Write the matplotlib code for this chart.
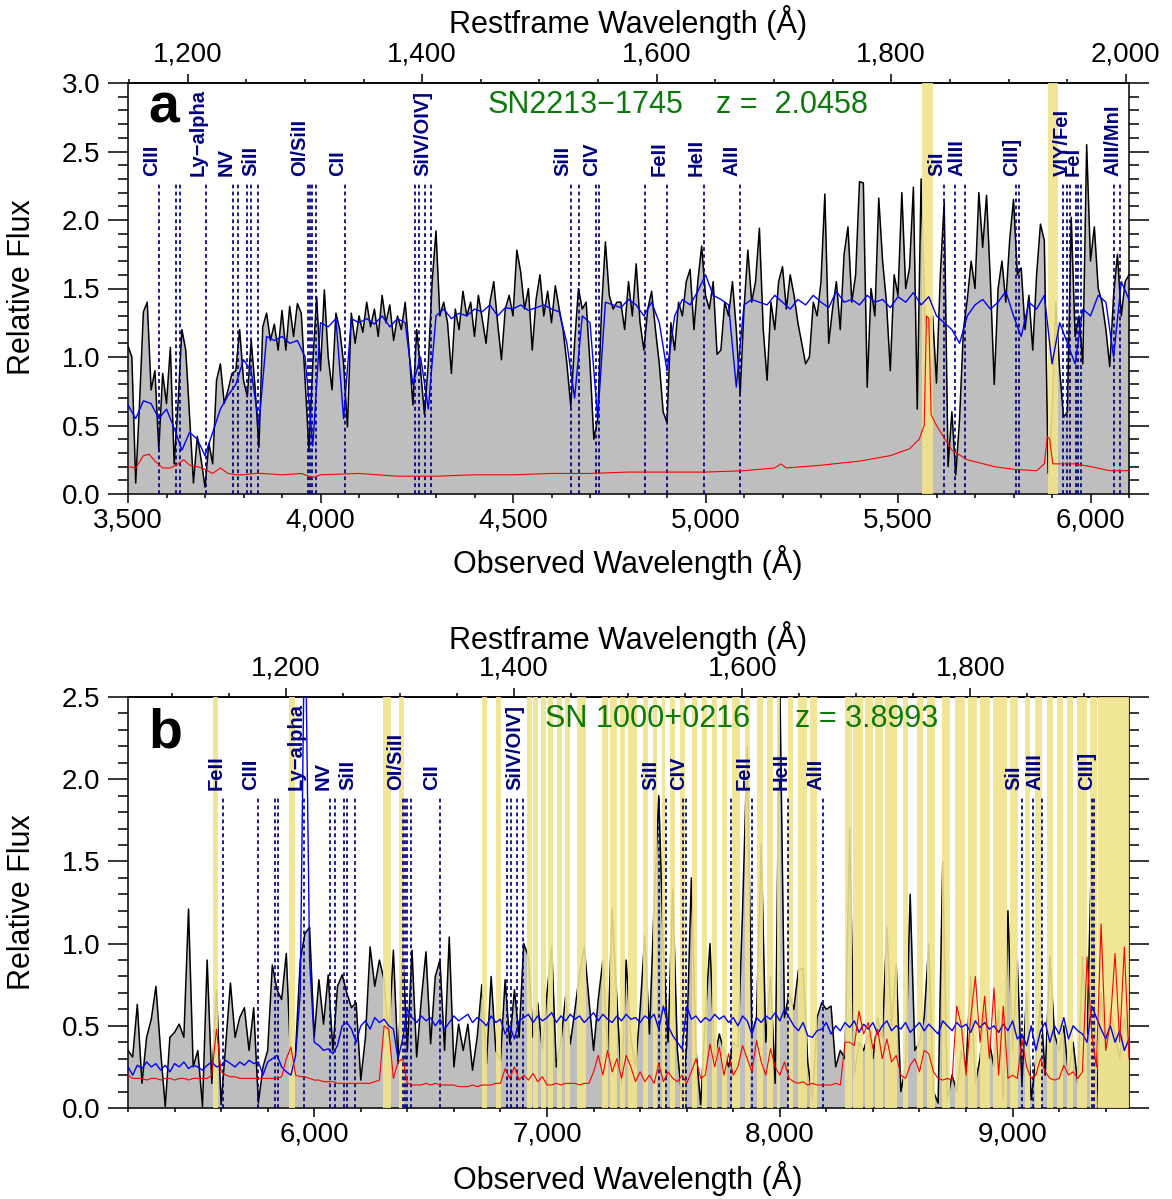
import numpy as np
import matplotlib
matplotlib.use('Agg')
import matplotlib.pyplot as plt
from matplotlib.ticker import MultipleLocator, FixedLocator, FuncFormatter, FormatStrFormatter
from matplotlib.transforms import offset_copy

plt.rcParams['font.family'] = ['Liberation Sans', 'DejaVu Sans']

# ----------------------------
# panel a : SN2213-1745
# ----------------------------
z_a = 2.0458
flux_a_start, flux_a_step = 3500, 10
flux_a = [
    1.08, 1.00, 0.08, 0.66, 1.33, 1.40, 0.76, 0.90, 0.32, 0.88,
    0.66, 1.07, 0.22, 0.66, 1.20, 1.05, 0.56, 0.08, 0.42, 0.25,
    0.05, 0.37, 0.22, 0.83, 0.95, 0.66, 0.76, 0.88, 0.90, 1.20,
    0.83, 0.71, 1.12, 0.78, 0.34, 1.22, 1.32, 1.12, 1.24, 1.05,
    1.34, 1.05, 1.37, 1.15, 1.39, 1.32, 0.83, 0.32, 0.95, 1.44,
    0.90, 1.49, 1.00, 0.76, 1.32, 1.20, 0.95, 0.49, 1.32, 1.10,
    1.30, 1.18, 1.40, 1.22, 1.35, 1.15, 1.45, 1.25, 1.38, 1.12,
    1.30, 1.20, 1.40, 1.05, 0.65, 1.20, 0.90, 0.58, 0.95, 1.55,
    1.92, 1.30, 1.40, 1.25, 0.88, 1.35, 1.20, 1.48, 1.30, 1.40,
    1.15, 1.45, 1.28, 1.10, 1.40, 1.55, 1.25, 0.98, 1.35, 1.45,
    1.30, 1.78, 1.62, 1.35, 1.50, 1.05, 1.42, 1.60, 1.30, 1.48,
    1.25, 1.52, 1.35, 1.20, 0.95, 0.64, 1.10, 1.50, 1.35, 1.40,
    0.95, 0.40, 0.55, 1.35, 1.84, 1.45, 1.35, 1.40, 1.40, 1.20,
    1.55, 1.30, 1.68, 1.25, 1.05, 1.35, 1.48, 1.20, 0.95, 0.60,
    0.52, 1.25, 1.05, 1.40, 1.30, 1.55, 1.64, 1.20, 1.55, 1.81,
    1.45, 1.35, 1.55, 1.02, 1.05, 1.40, 1.30, 1.55, 1.20, 0.73,
    1.35, 1.78, 1.40, 1.55, 1.94, 1.20, 0.83, 1.40, 1.20, 1.55,
    1.66, 1.35, 1.60, 1.45, 1.25, 1.10, 0.95, 1.00, 1.40, 1.30,
    1.55, 2.19, 1.10, 1.35, 1.55, 1.20, 1.75, 1.95, 1.40, 1.60,
    2.28, 2.27, 0.78, 1.50, 1.30, 2.16, 1.70, 1.40, 0.90, 1.60,
    1.45, 2.20, 1.50, 1.65, 2.24, 0.62, 2.30, 1.25, 1.20, 1.30,
    0.81, 1.60, 2.13, 0.20, 0.60, 0.14, 0.55, 1.20, 1.42, 1.70,
    1.50, 2.20, 1.80, 2.18, 1.55, 0.80, 1.50, 1.70, 1.40, 1.85,
    2.15, 1.60, 1.65, 1.20, 1.45, 1.05, 1.60, 1.97, 1.85, 0.15,
    0.60, 1.40, 0.90, 0.56, 0.60, 2.02, 1.15, 1.30, 0.95, 2.55,
    1.70, 1.95, 1.50, 1.40, 1.20, 0.93, 1.45, 1.75, 1.30, 1.55,
    1.60,
]
comp_a_start, comp_a_step = 3500, 20
comp_a = [
    0.65, 0.55, 0.68, 0.66, 0.55, 0.62, 0.48, 0.32, 0.45, 0.40,
    0.28, 0.45, 0.62, 0.72, 0.80, 0.98, 0.90, 0.50, 1.15, 1.12,
    1.15, 1.10, 1.12, 1.00, 0.35, 1.25, 1.22, 1.28, 0.55, 1.28,
    1.25, 1.28, 1.24, 1.30, 1.22, 1.28, 1.25, 0.80, 1.00, 0.62,
    1.30, 1.35, 1.28, 1.32, 1.30, 1.35, 1.33, 1.38, 1.30, 1.36,
    1.35, 1.38, 1.34, 1.36, 1.38, 1.35, 1.33, 1.10, 0.70, 1.30,
    1.25, 0.55, 1.40, 1.38, 1.36, 1.42, 1.38, 1.30, 1.40, 1.25,
    0.90, 1.30, 1.42, 1.38, 1.48, 1.60, 1.45, 1.42, 1.38, 0.78,
    1.38, 1.42, 1.40, 1.38, 1.45, 1.40, 1.35, 1.42, 1.38, 1.45,
    1.40, 1.36, 1.48, 1.40, 1.42, 1.38, 1.45, 1.40, 1.42, 1.36,
    1.44, 1.40, 1.47, 1.38, 1.44, 1.30, 1.25, 1.20, 1.10, 1.30,
    1.38, 1.42, 1.35, 1.40, 1.48, 1.30, 1.15, 1.40, 1.35, 1.45,
    0.95, 1.25, 1.10, 0.95, 1.35, 1.30, 1.45, 1.40, 1.00, 1.55,
    1.42,
]
err_a_wave = [3500, 3520, 3540, 3555, 3570, 3590, 3610, 3630, 3645, 3660,
              3680, 3700, 3720, 3740, 3760, 3780, 3800, 3830, 3850, 3900,
              3950, 3980, 4000, 4100, 4200, 4300, 4400, 4500, 4600, 4700,
              4800, 4900, 5000, 5100, 5180, 5195, 5210, 5300, 5400, 5480,
              5530, 5555, 5568, 5574, 5580, 5586, 5600, 5640, 5680, 5750,
              5800, 5860, 5880, 5888, 5894, 5902, 5920, 5960, 6000, 6050,
              6100]
err_a = [0.20, 0.19, 0.28, 0.29, 0.24, 0.19, 0.19, 0.22, 0.25, 0.21,
         0.20, 0.18, 0.15, 0.19, 0.15, 0.14, 0.14, 0.15, 0.15, 0.14,
         0.15, 0.12, 0.14, 0.15, 0.13, 0.13, 0.14, 0.14, 0.15, 0.15,
         0.16, 0.16, 0.16, 0.17, 0.19, 0.22, 0.19, 0.21, 0.24, 0.28,
         0.33, 0.40, 0.50, 1.30, 1.28, 0.58, 0.50, 0.32, 0.25, 0.20,
         0.18, 0.17, 0.22, 0.42, 0.40, 0.22, 0.22, 0.22, 0.20, 0.17,
         0.17]
sky_a = [(5563, 5590), (5890, 5915)]

# ----------------------------
# panel b : SN 1000+0216
# ----------------------------
z_b = 3.8993
grid_b_start, grid_b_step = 5200, 20
flux_b = [
    0.35, 0.31, 0.63, 0.15, 0.43, 0.54, 0.74, 0.35, 0.01, 0.43,
    0.46, 0.51, 0.43, 1.21, 0.25, 0.35, 0.01, 0.90, 0.15, 0.72,
    0.02, 0.39, 0.76, 0.43, 0.55, 0.61, 0.35, 0.61, 0.03, 0.25,
    0.35, 0.87, 0.72, 0.66, 0.94, 0.25, 0.35, 0.90, 1.06, 1.10,
    0.43, 0.78, 0.51, 0.81, 0.35, 0.74, 0.81, 0.70, 0.61, 0.64,
    0.17, 0.43, 0.98, 0.74, 0.90, 0.78, 0.43, 0.96, 0.27, 0.96,
    0.35, 0.96, 0.31, 0.66, 0.95, 0.39, 0.80, 0.90, 0.35, 1.04,
    0.25, 0.51, 0.35, 0.51, 0.23, 0.43, 0.75, 0.27, 0.80, 0.35,
    0.29, 0.78, 0.39, 0.72, 0.43, 1.00, 0.92, 0.43, 0.64, 0.35,
    0.70, 0.98, 0.25, 0.41, 0.68, 0.39, 0.60, 0.82, 0.98, 0.66,
    0.35, 0.66, 0.90, 0.35, 1.21, 0.66, 0.15, 0.90, 0.43, 0.25,
    0.60, 1.05, 0.45, 1.23, 1.90, 0.96, 0.40, 1.33, 0.35, 0.05,
    0.38, 1.40, 0.35, 0.02, 0.55, 1.00, 0.30, 0.45, 0.35, 0.25,
    0.40, 0.37, 1.20, 2.20, 0.45, 0.55, 1.60, 0.40, 0.80, 0.15,
    2.60, 0.55, 0.70, 0.60, 0.84, 0.85, 0.28, 0.05, 0.55, 0.64,
    0.60, 0.62, 0.25, 0.35, 0.30, 1.70, 0.20, 0.40, 0.35, 0.45,
    0.30, 0.55, 0.42, 1.10, 0.50, 0.87, 0.10, 0.25, 1.30, 0.35,
    0.40, 0.55, 1.00, 0.10, 0.03, 1.50, 0.05, 0.20, 0.10, 0.35,
    0.25, 0.80, 0.15, 0.30, 0.60, 0.40, 0.25, 0.60, 0.05, 1.20,
    0.35, 0.90, 0.15, 0.70, 0.05, 0.30, 0.65, 0.20, 0.92, 0.45,
    0.35, 0.50, 0.20, 0.40, 0.15, 0.92, 0.45, 1.60, 0.00, 0.70,
    0.35, 0.60, 0.45, 0.30, 0.55, 0.40,
]
comp_b = [
    0.25, 0.20, 0.26, 0.24, 0.28, 0.25, 0.27, 0.23, 0.26, 0.22,
    0.27, 0.25, 0.28, 0.24, 0.26, 0.25, 0.23, 0.26, 0.28, 0.25,
    0.26, 0.29, 0.27, 0.25, 0.28, 0.26, 0.29, 0.27, 0.28, 0.20,
    0.28, 0.30, 0.32, 0.25, 0.22, 0.20, 0.32, 0.70, 3.20, 0.90,
    0.40, 0.38, 0.35, 0.36, 0.33, 0.38, 0.50, 0.52, 0.48, 0.40,
    0.50, 0.53, 0.48, 0.55, 0.52, 0.54, 0.50, 0.48, 0.30, 0.42,
    0.60, 0.55, 0.52, 0.56, 0.53, 0.55, 0.50, 0.54, 0.48, 0.52,
    0.56, 0.53, 0.55, 0.57, 0.52, 0.55, 0.53, 0.50, 0.56, 0.52,
    0.54, 0.45, 0.50, 0.42, 0.53, 0.55, 0.57, 0.52, 0.56, 0.53,
    0.55, 0.58, 0.52, 0.56, 0.53, 0.57, 0.54, 0.56, 0.52, 0.55,
    0.58, 0.53, 0.57, 0.54, 0.52, 0.56, 0.53, 0.57, 0.54, 0.55,
    0.52, 0.56, 0.54, 0.57, 0.48, 0.62, 0.50, 0.44, 0.40, 0.36,
    0.62, 0.54, 0.56, 0.52, 0.55, 0.53, 0.57, 0.54, 0.56, 0.52,
    0.55, 0.50, 0.56, 0.53, 0.45, 0.55, 0.52, 0.56, 0.54, 0.58,
    0.53, 0.60, 0.55, 0.50, 0.47, 0.52, 0.44, 0.43, 0.47, 0.48,
    0.52, 0.45, 0.50, 0.47, 0.52, 0.49, 0.53, 0.46, 0.51, 0.48,
    0.52, 0.45, 0.50, 0.53, 0.47, 0.50, 0.48, 0.52, 0.46, 0.49,
    0.52, 0.47, 0.51, 0.48, 0.45, 0.53, 0.50, 0.47, 0.52, 0.49,
    0.51, 0.46, 0.53, 0.49, 0.52, 0.48, 0.50, 0.46, 0.51, 0.47,
    0.53, 0.42, 0.45, 0.38, 0.50, 0.35, 0.47, 0.52, 0.40, 0.50,
    0.45, 0.55, 0.42, 0.50, 0.47, 0.45, 0.40, 0.62, 0.55, 0.48,
    0.42, 0.50, 0.40, 0.47, 0.35, 0.42,
]
err_b = [
    0.20, 0.18, 0.18, 0.18, 0.17, 0.18, 0.18, 0.17, 0.18, 0.18,
    0.17, 0.18, 0.18, 0.17, 0.18, 0.18, 0.18, 0.18, 0.20, 0.48,
    0.22, 0.20, 0.19, 0.19, 0.18, 0.18, 0.18, 0.18, 0.18, 0.18,
    0.18, 0.18, 0.18, 0.19, 0.30, 0.37, 0.20, 0.19, 0.19, 0.18,
    0.17, 0.17, 0.16, 0.16, 0.16, 0.15, 0.15, 0.15, 0.15, 0.15,
    0.15, 0.15, 0.15, 0.16, 0.17, 0.50, 0.48, 0.18, 0.28, 0.30,
    0.15, 0.14, 0.14, 0.14, 0.15, 0.14, 0.15, 0.14, 0.14, 0.14,
    0.14, 0.13, 0.13, 0.13, 0.14, 0.13, 0.14, 0.14, 0.14, 0.15,
    0.15, 0.24, 0.18, 0.25, 0.17, 0.20, 0.17, 0.21, 0.16, 0.19,
    0.14, 0.14, 0.15, 0.14, 0.15, 0.15, 0.15, 0.14, 0.15, 0.15,
    0.22, 0.32, 0.20, 0.35, 0.22, 0.30, 0.18, 0.32, 0.25, 0.16,
    0.22, 0.16, 0.20, 0.15, 0.27, 0.16, 0.22, 0.18, 0.16, 0.20,
    0.15, 0.22, 0.30, 0.18, 0.20, 0.39, 0.25, 0.37, 0.20, 0.33,
    0.20, 0.25, 0.38, 0.30, 0.22, 0.41, 0.28, 0.20, 0.36, 0.25,
    0.20, 0.28, 0.18, 0.16, 0.15, 0.16, 0.14, 0.15, 0.14, 0.14,
    0.14, 0.14, 0.15, 0.14, 0.40, 0.40, 0.38, 0.59, 0.45, 0.52,
    0.36, 0.48, 0.30, 0.42, 0.28, 0.32, 0.20, 0.18, 0.26, 0.30,
    0.22, 0.35, 0.33, 0.22, 0.18, 0.17, 0.18, 0.17, 0.62, 0.50,
    0.20, 0.55, 0.80, 0.40, 0.68, 0.30, 0.73, 0.20, 0.62, 0.18,
    0.20, 0.18, 0.42, 0.25, 0.18, 0.20, 0.30, 0.22, 0.18, 0.17,
    0.18, 0.26, 0.20, 0.22, 0.18, 0.22, 0.92, 0.45, 0.25, 1.12,
    0.35, 0.52, 0.94, 0.40, 0.98, 0.30,
]
sky_b = [(5566, 5588), (5890, 5916), (6297, 6329), (6364, 6386), (6719, 6741),
         (6779, 6801), (6915, 6937), (6941, 6963), (6973, 6994), (7005, 7024),
         (7042, 7063), (7077, 7099), (7130, 7167), (7235, 7263), (7271, 7299),
         (7313, 7335), (7349, 7385), (7414, 7435), (7457, 7471), (7493, 7507),
         (7528, 7550), (7571, 7593), (7621, 7643), (7664, 7686), (7707, 7729),
         (7750, 7772), (7793, 7829), (7851, 7872), (7901, 7929), (7944, 7972),
         (7987, 8001), (8036, 8058), (8079, 8115), (8130, 8158), (8280, 8309),
         (8316, 8359), (8366, 8402), (8409, 8445), (8452, 8502), (8531, 8552),
         (8588, 8616), (8631, 8667), (8695, 8731), (8753, 8796), (8810, 8846),
         (8860, 8903), (8917, 8975), (8989, 9025), (9053, 9075), (9096, 9125),
         (9146, 9175), (9189, 9218), (9232, 9261), (9275, 9318), (9332, 9361),
         (9368, 9500)]

# ----------------------------
# line identifications (restframe, Angstrom)
# ----------------------------
line_waves = [1144.9, 1175.7, 1190.4, 1193.3, 1215.67, 1238.8, 1242.8, 1250.6,
              1253.8, 1260.4, 1302.2, 1304.4, 1306.0, 1309.3, 1334.5, 1393.8,
              1397.2, 1402.8, 1407.4, 1526.7, 1533.4, 1548.2, 1550.8, 1589.8,
              1608.5, 1640.4, 1670.8, 1845.0, 1854.7, 1862.8, 1906.7, 1908.7,
              1946.5, 1950.0, 1952.2, 1957.5, 1959.5, 1961.8, 1989.7, 1995.5]
label_names = ['FeII', 'CIII', 'Ly\u2212alpha', 'NV', 'SiII', 'OI/SiII', 'CII',
               'SiIV/OIV]', 'SiII', 'CIV', 'FeII', 'HeII', 'AlII', 'SiI', 'AlIII',
               'CIII]', 'VIY/FeI', 'FeI', 'AlII/MnI']
label_waves = [1144.9, 1175.7, 1215.67, 1238.8, 1260.4, 1302.2, 1334.5,
               1407.4, 1526.7, 1550.8, 1608.5, 1640.4, 1670.8, 1845.0, 1862.8,
               1908.7, 1952.2, 1961.8, 1995.5]
rest_ticks = [1200, 1400, 1600, 1800, 2000]

W, H = 1172, 1199
NAVY = '#000080'
GREEN = '#0b7a0b'
YELLOW = '#efe48b'


def comma(v, pos):
    return f'{v:,.0f}'


def draw_panel(ax, z, wave, flux, cwave, comp, ewave, err, sky, xlim, ylim,
               line_top, label_y, name, zlabel, name_x, z_x, letter, letter_y):
    ax.fill_between(wave, 0, flux, color='#bebebe', lw=0, zorder=1)
    ax.plot(wave, flux, color='black', lw=1.1, zorder=2)
    for lo, hi in sky:
        ax.axvspan(lo, hi, color=YELLOW, alpha=0.9, lw=0, zorder=3)

    obs = [w * (1 + z) for w in line_waves]
    obs = [o for o in obs if xlim[0] < o < xlim[1]]
    ax.vlines(obs, 0, line_top, colors=NAVY, linestyles=(0, (2.2, 1.8)),
              lw=1.25, zorder=4)

    ax.plot(cwave, comp, color='#0000ff', lw=1.0, zorder=5)
    ax.plot(ewave, err, color='#ff0000', lw=0.8, zorder=6)

    trans = offset_copy(ax.transData, fig=ax.figure, x=-7.5, y=0, units='dots')
    for txt, lw in zip(label_names, label_waves):
        o = lw * (1 + z)
        if xlim[0] < o < xlim[1]:
            ax.text(o, label_y, txt, rotation=90, ha='center', va='bottom',
                    color=NAVY, fontsize=14.5, fontweight='bold',
                    transform=trans, zorder=7)

    ax.text(name_x, 0.946, name, transform=ax.transAxes, color=GREEN,
            fontsize=22, ha='left', va='center', zorder=8)
    ax.text(z_x, 0.946, zlabel, transform=ax.transAxes, color=GREEN,
            fontsize=22, ha='left', va='center', zorder=8)
    ax.text(0.02, letter_y, letter, transform=ax.transAxes, fontsize=40,
            fontweight='bold', ha='left', va='baseline', zorder=8)

    ax.set_xlim(*xlim)
    ax.set_ylim(*ylim)
    ax.xaxis.set_major_locator(MultipleLocator(500 if xlim[1] < 7000 else 1000))
    ax.xaxis.set_minor_locator(MultipleLocator(100 if xlim[1] < 7000 else 200))
    ax.xaxis.set_major_formatter(FuncFormatter(comma))
    ax.yaxis.set_major_locator(MultipleLocator(0.5))
    ax.yaxis.set_minor_locator(MultipleLocator(0.1))
    ax.yaxis.set_major_formatter(FormatStrFormatter('%.1f'))
    ax.tick_params(which='both', direction='out', right=True, top=False,
                   width=1.1, labelsize=20)
    ax.tick_params(axis='y', which='major', length=14.4, pad=5.5)
    ax.tick_params(axis='y', which='minor', length=7.2)
    ax.tick_params(axis='x', which='major', length=6.5, pad=3.5)
    ax.tick_params(axis='x', which='minor', length=3)
    for s in ax.spines.values():
        s.set_linewidth(1.1)

    lo_r, hi_r = xlim[0] / (1 + z), xlim[1] / (1 + z)
    sec = ax.secondary_xaxis('top', functions=(lambda x: x / (1 + z),
                                               lambda x: x * (1 + z)))
    sec.xaxis.set_major_locator(FixedLocator([t for t in rest_ticks if lo_r <= t <= hi_r]))
    sec.xaxis.set_minor_locator(FixedLocator(
        [t for t in range(1050, 2050, 50) if lo_r <= t <= hi_r and t % 200]))
    sec.xaxis.set_major_formatter(FuncFormatter(comma))
    sec.tick_params(which='both', direction='out', width=1.1, labelsize=20)
    sec.tick_params(which='major', length=6.5, pad=5)
    sec.tick_params(which='minor', length=3)
    sec.spines['top'].set_linewidth(1.1)


fig = plt.figure(figsize=(W / 100, H / 100), dpi=100)
ax_a = fig.add_axes([128 / W, 1 - 494 / H, 1001 / W, 411 / H])
ax_b = fig.add_axes([128 / W, 1 - 1108 / H, 1001 / W, 411 / H])

wave_a = flux_a_start + flux_a_step * np.arange(len(flux_a))
cwave_a = comp_a_start + comp_a_step * np.arange(len(comp_a))
draw_panel(ax_a, z_a, wave_a, flux_a, cwave_a, comp_a, err_a_wave, err_a, sky_a,
           (3500, 6100), (0, 3.0), 2.27, 2.32, 'SN2213\u22121745',
           'z =  2.0458', 0.359, 0.587, 'a', 0.903)

wave_b = grid_b_start + grid_b_step * np.arange(len(flux_b))
draw_panel(ax_b, z_b, wave_b, flux_b, wave_b, comp_b, wave_b, err_b, sky_b,
           (5200, 9500), (0, 2.5), 1.90, 1.935, 'SN 1000+0216',
           'z = 3.8993', 0.417, 0.666, 'b', 0.878)

# axis titles
for yc in (287, 902):
    fig.text(22 / W, 1 - yc / H, 'Relative Flux', rotation=90, fontsize=22,
             ha='center', va='center')
for yc in (563, 1179):
    fig.text(628 / W, 1 - yc / H, 'Observed Wavelength (\u00c5)', fontsize=22,
             ha='center', va='center')
for yc in (22, 638):
    fig.text(628 / W, 1 - yc / H, 'Restframe Wavelength (\u00c5)', fontsize=22,
             ha='center', va='center')

fig.savefig('out.png', dpi=100)
